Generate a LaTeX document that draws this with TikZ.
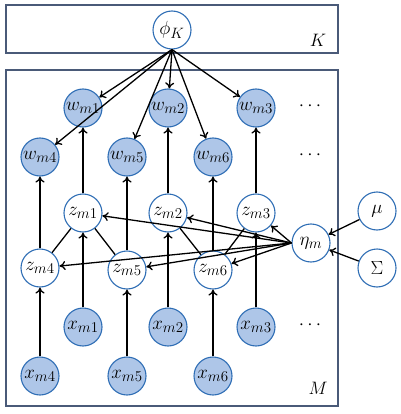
\RequirePackage{fix-cm}
\documentclass[tikz,border=0pt]{standalone}
\usetikzlibrary{arrows.meta}
\DeclareMathSizes{19}{19}{15}{12}
\definecolor{nodeline}{HTML}{2F6EB5}
\definecolor{nodefill}{HTML}{AEC6E8}
\definecolor{boxline}{HTML}{4A5A78}
\tikzset{
  var/.style={circle,draw=nodeline,line width=1.1pt,minimum size=38pt,inner sep=0pt,font=\fontsize{19}{22}\selectfont},
  obs/.style={var,fill=nodefill},
  lat/.style={var,fill=white},
  plate/.style={draw=boxline,line width=1.3pt},
  arr/.style={-{To[length=6pt,width=9pt]},line width=1.3pt},
  und/.style={line width=1.3pt},
  dots/.style={font=\fontsize{19}{22}\selectfont},
}
\begin{document}
\begin{tikzpicture}[x=1pt,y=-1pt]
\useasboundingbox (0,0) rectangle (400,414);
\draw[plate] (6,5) rectangle (338,53);
\draw[plate] (6,70) rectangle (338,406);
\node[font=\fontsize{18}{21}\selectfont] (Klab) at (318,40) {$K$};
\node[font=\fontsize{18}{21}\selectfont] (Mlab) at (318,388) {$M$};

\node[lat] (phi) at (172,30) {$\phi_K$};

\node[obs] (w1) at (83,108) {$w_{m1}$};
\node[obs] (w2) at (168,108) {$w_{m2}$};
\node[obs] (w3) at (256,108) {$w_{m3}$};
\node[obs] (w4) at (40,157) {$w_{m4}$};
\node[obs] (w5) at (127,157) {$w_{m5}$};
\node[obs] (w6) at (213,157) {$w_{m6}$};
\node[dots] (d1) at (310,106) {$\cdots$};
\node[dots] (d2) at (310,155) {$\cdots$};

\node[lat] (z1) at (83,213) {$z_{m1}$};
\node[lat] (z2) at (168,213) {$z_{m2}$};
\node[lat] (z3) at (256,213) {$z_{m3}$};
\node[lat] (z4) at (40,268) {$z_{m4}$};
\node[lat] (z5) at (127,270) {$z_{m5}$};
\node[lat] (z6) at (213,270) {$z_{m6}$};

\node[lat] (eta) at (311,243) {$\eta_m$};
\node[lat] (mu) at (377,211) {$\mu$};
\node[lat] (Sig) at (377,268) {$\Sigma$};

\node[obs] (x1) at (83,327) {$x_{m1}$};
\node[obs] (x2) at (168,327) {$x_{m2}$};
\node[obs] (x3) at (256,327) {$x_{m3}$};
\node[obs] (x4) at (40,376) {$x_{m4}$};
\node[obs] (x5) at (127,376) {$x_{m5}$};
\node[obs] (x6) at (213,376) {$x_{m6}$};
\node[dots] (d3) at (310,325) {$\cdots$};

\coordinate (phib) at (phi.south);
\coordinate (etal) at (eta.west);
\foreach \w in {w1,w2,w3,w4,w5,w6} \draw[arr] (phib) -- (\w);
\foreach \i in {1,...,6} \draw[arr] (z\i) -- (w\i);
\foreach \i in {1,...,6} \draw[arr] (x\i) -- (z\i);
\foreach \z in {z1,z2,z3,z4,z5,z6} \draw[arr] (etal) -- (\z);
\draw[und] (z1) -- (z4);
\draw[und] (z1) -- (z5);
\draw[und] (z2) -- (z6);
\draw[und] (z3) -- (z6);
\draw[arr] (mu) -- (eta);
\draw[arr] (Sig) -- (eta);
\end{tikzpicture}
\end{document}
